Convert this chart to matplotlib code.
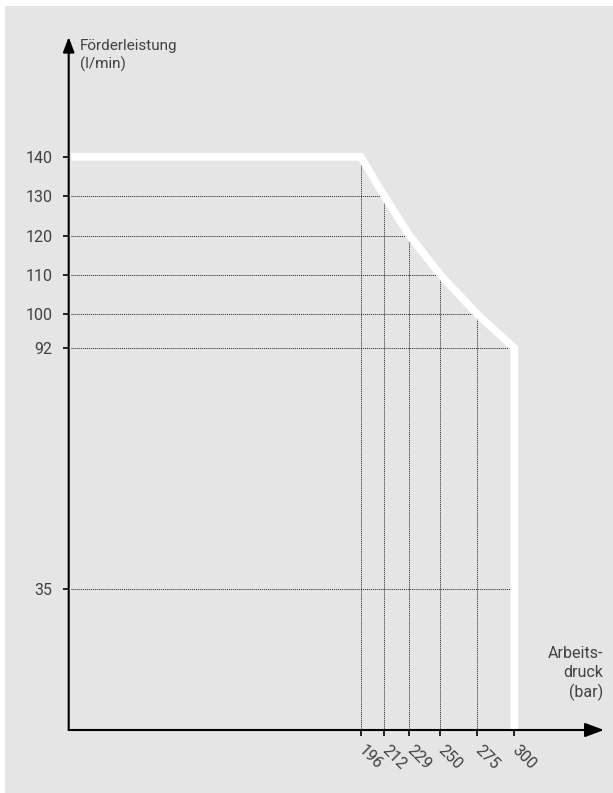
import matplotlib
matplotlib.use('Agg')
import matplotlib.pyplot as plt
from matplotlib.patches import Rectangle
import numpy as np

# Kennlinie (Arbeitsdruck in bar, Förderleistung in l/min)
druck = [0, 196, 212, 229, 250, 275, 300, 300]
leistung = [140, 140, 130, 120, 110, 100, 92, 0]

x_ticks = [196, 212, 229, 250, 275, 300]
y_ticks = [35, 92, 100, 110, 120, 130, 140]

# Hilfslinien: waagerecht bis zur Kurve, senkrecht bis zur Kurve
h_lines = [(130, 212), (120, 229), (110, 250), (100, 275), (92, 300), (35, 300)]
v_lines = [(196, 140), (212, 130), (229, 120), (250, 110), (275, 100)]

# schematische (nicht lineare) y-Achse der Vorlage
y_knots = [0, 35, 92, 100, 140, 200]
y_pos = [0, 140.7, 382, 415.7, 573.3, 809.7]

def fwd(v):
    return np.interp(v, y_knots, y_pos)

def inv(p):
    return np.interp(p, y_pos, y_knots)

text_col = '#414141'
plt.rcParams['font.family'] = ['Roboto', 'DejaVu Sans']

fig = plt.figure(figsize=(6.13, 7.93), dpi=100)
fig.patch.set_facecolor('white')
fig.patches.append(Rectangle((5 / 613, 0), 1, 1 - 6 / 793, transform=fig.transFigure,
                             facecolor='#e5e5e5', edgecolor='none', zorder=-10))

ax = fig.add_axes([68.7 / 613, 63 / 793, 535.3 / 613, 693 / 793])
ax.set_facecolor('none')
ax.set_yscale('function', functions=(fwd, inv))
ax.set_xlim(-1.7, 360.7)
ax.set_ylim(0, 170.4)

for s in ax.spines.values():
    s.set_visible(False)

# Achsen mit Pfeilspitzen
ax.annotate('', xy=(0, 1), xytext=(0, 0), xycoords='axes fraction',
            arrowprops=dict(arrowstyle='-|>,head_length=0.91,head_width=0.34',
                            mutation_scale=10, color='black', lw=1.5,
                            shrinkA=0, shrinkB=0), zorder=5)
ax.annotate('', xy=(1, 0), xytext=(0, 0), xycoords='axes fraction',
            arrowprops=dict(arrowstyle='-|>,head_length=1.15,head_width=0.43',
                            mutation_scale=10, color='black', lw=1.5,
                            shrinkA=0, shrinkB=0), zorder=5)

for y, x in h_lines:
    ax.plot([0, x], [y, y], color='#222222', lw=0.7, ls=(0, (1, 1)), zorder=1)
for x, y in v_lines:
    ax.plot([x, x], [0, y], color='#222222', lw=0.7, ls=(0, (1, 1)), zorder=1)

ax.plot(druck, leistung, color='white', lw=5.5, solid_joinstyle='miter',
        solid_capstyle='butt', zorder=3)

ax.set_xticks(x_ticks)
ax.set_xticklabels([str(v) for v in x_ticks])
ax.set_yticks(y_ticks)
ax.set_yticklabels([str(v) for v in y_ticks])
ax.minorticks_off()
ax.tick_params(axis='y', direction='out', length=4.5, width=1.2, pad=7,
               labelsize=11.5, labelcolor=text_col)
ax.tick_params(axis='x', direction='out', length=4.5, width=1.2, pad=8,
               labelsize=11.5, labelcolor=text_col)
for lab in ax.get_xticklabels():
    lab.set_rotation(-45)
    lab.set_rotation_mode('anchor')
    lab.set_ha('left')
    lab.set_va('center')

fig.text(80 / 613, 1 - 39 / 793, 'Förderleistung\n(l/min)', ha='left', va='top',
         fontsize=11, color=text_col, linespacing=1.3)
fig.text(603.5 / 613, 1 - 646 / 793, 'Arbeits-\ndruck\n(bar)', ha='right', va='top',
         multialignment='right', fontsize=11.5, color=text_col, linespacing=1.3)

fig.savefig('out.png', dpi=100)
